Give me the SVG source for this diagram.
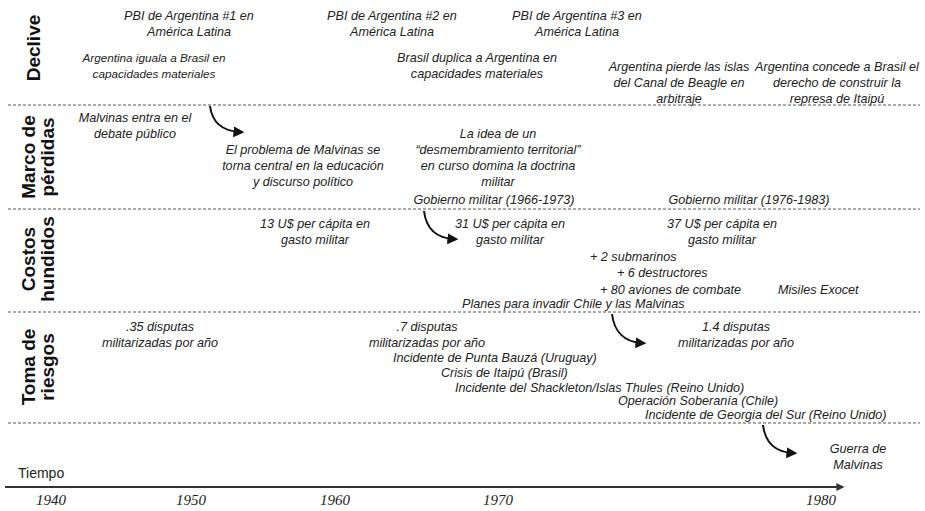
<svg xmlns="http://www.w3.org/2000/svg" width="925" height="511" viewBox="0 0 925 511">
<style>
.t{font-family:"Liberation Sans",Arial,sans-serif;font-style:italic;font-size:12.6px;fill:#222}
.m{text-anchor:middle}
.s{font-size:11.7px}
.r{font-family:"Liberation Sans",Arial,sans-serif;font-weight:bold;font-size:19px;fill:#111;text-anchor:middle}
.y{font-family:"Liberation Serif","Times New Roman",serif;font-style:italic;font-size:15px;fill:#222;text-anchor:middle}
.d{stroke:#555;stroke-width:1.2;stroke-dasharray:3 2;fill:none}
.a{stroke:#111;stroke-width:2;fill:none}
</style>
<defs>
<marker id="ah" viewBox="0 0 10 10" refX="6" refY="5" markerWidth="5.5" markerHeight="5.5" orient="auto" markerUnits="strokeWidth"><path d="M0,0 L10,5 L0,10 z" fill="#111"/></marker>
<marker id="ax" viewBox="0 0 10 10" refX="2" refY="5" markerWidth="4" markerHeight="4" orient="auto" markerUnits="strokeWidth"><path d="M0,0 L10,5 L0,10 z" fill="#333"/></marker>
</defs>
<rect width="925" height="511" fill="#fff"/>
<g id="separators">
<line class="d" x1="8" y1="105" x2="920" y2="105"/>
<line class="d" x1="8" y1="209" x2="920" y2="209"/>
<line class="d" x1="8" y1="312" x2="920" y2="312"/>
<line class="d" x1="8" y1="423" x2="920" y2="423"/>
</g>
<g id="row-labels">
<text class="r" transform="translate(40,48) rotate(-90)">Declive</text>
<text class="r" transform="translate(35,157) rotate(-90)">Marco de</text>
<text class="r" transform="translate(54,157) rotate(-90)">pérdidas</text>
<text class="r" transform="translate(35,259) rotate(-90)">Costos</text>
<text class="r" transform="translate(54,259) rotate(-90)">hundidos</text>
<text class="r" transform="translate(35,367) rotate(-90)">Toma de</text>
<text class="r" transform="translate(54,367) rotate(-90)">riesgos</text>
</g>
<g id="declive">
<text class="t m" x="189" y="20">PBI de Argentina #1 en<tspan x="189" y="36">América Latina</tspan></text>
<text class="t m s" x="154" y="62">Argentina iguala a Brasil en<tspan x="154" y="78">capacidades materiales</tspan></text>
<text class="t m" x="392" y="20">PBI de Argentina #2 en<tspan x="392" y="36">América Latina</tspan></text>
<text class="t m" x="577" y="20">PBI de Argentina #3 en<tspan x="577" y="36">América Latina</tspan></text>
<text class="t m" x="477" y="62">Brasil duplica a Argentina en<tspan x="477" y="78">capacidades materiales</tspan></text>
<text class="t m" x="679" y="71">Argentina pierde las islas<tspan x="679" y="87">del Canal de Beagle en</tspan><tspan x="679" y="103">arbitraje</tspan></text>
<text class="t m" x="837" y="71">Argentina concede a Brasil el<tspan x="837" y="87">derecho de construir la</tspan><tspan x="837" y="103">represa de Itaipú</tspan></text>
</g>
<g id="marco">
<text class="t m" x="135" y="122">Malvinas entra en el<tspan x="135" y="138">debate público</tspan></text>
<text class="t m" x="303" y="154">El problema de Malvinas se<tspan x="303" y="170">torna central en la educación</tspan><tspan x="303" y="186">y discurso político</tspan></text>
<text class="t m" x="498" y="138">La idea de un<tspan x="498" y="154">“desmembramiento territorial”</tspan><tspan x="498" y="170">en curso domina la doctrina</tspan><tspan x="498" y="186">militar</tspan></text>
<text class="t m" x="494" y="204">Gobierno militar (1966-1973)</text>
<text class="t m" x="749" y="204">Gobierno militar (1976-1983)</text>
</g>
<g id="costos">
<text class="t m" x="315" y="228">13 U$ per cápita en<tspan x="315" y="244">gasto militar</tspan></text>
<text class="t m" x="510" y="228">31 U$ per cápita en<tspan x="510" y="244">gasto militar</tspan></text>
<text class="t m" x="722" y="228">37 U$ per cápita en<tspan x="722" y="244">gasto militar</tspan></text>
<text class="t" x="590" y="261">+ 2 submarinos</text>
<text class="t" x="617" y="277">+ 6 destructores</text>
<text class="t" x="600" y="294">+ 80 aviones de combate</text>
<text class="t" x="778" y="294">Misiles Exocet</text>
<text class="t" x="462" y="308">Planes para invadir Chile y las Malvinas</text>
</g>
<g id="riesgos">
<text class="t m" x="160" y="331">.35 disputas<tspan x="160" y="347">militarizadas por año</tspan></text>
<text class="t m" x="427" y="331">.7 disputas<tspan x="427" y="347">militarizadas por año</tspan></text>
<text class="t m" x="736" y="331">1.4 disputas<tspan x="736" y="347">militarizadas por año</tspan></text>
<text class="t" x="393" y="362">Incidente de Punta Bauzá (Uruguay)</text>
<text class="t" x="441" y="377">Crisis de Itaipú (Brasil)</text>
<text class="t" x="455" y="392">Incidente del Shackleton/Islas Thules (Reino Unido)</text>
<text class="t" x="618" y="405">Operación Soberanía (Chile)</text>
<text class="t" x="645" y="419">Incidente de Georgia del Sur (Reino Unido)</text>
</g>
<g id="guerra">
<text class="t m" x="858" y="453">Guerra de<tspan x="858" y="469">Malvinas</tspan></text>
</g>
<g id="connectors">
<path class="a" marker-end="url(#ah)" d="M210,106 C212,122 222,131 240,132"/>
<path class="a" marker-end="url(#ah)" d="M424,211 C426,228 436,238 454,239"/>
<path class="a" marker-end="url(#ah)" d="M612,314 C614,331 624,342 642,343"/>
<path class="a" marker-end="url(#ah)" d="M763,425 C765,442 775,452 793,453"/>
</g>
<g id="axis">
<text x="18" y="478" style="font-family:'Liberation Sans',Arial,sans-serif;font-size:14px;fill:#222">Tiempo</text>
<line x1="5" y1="487" x2="838" y2="487" stroke="#333" stroke-width="2" marker-end="url(#ax)"/>
<text class="y" x="51" y="505">1940</text>
<text class="y" x="191" y="505">1950</text>
<text class="y" x="335" y="505">1960</text>
<text class="y" x="498" y="505">1970</text>
<text class="y" x="821" y="505">1980</text>
</g>
</svg>
